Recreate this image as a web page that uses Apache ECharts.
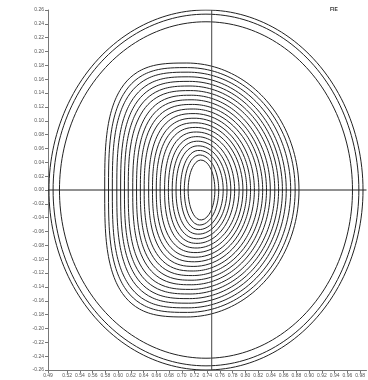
<!DOCTYPE html>
<html>
<head>
<meta charset="utf-8">
<script src="https://cdn.jsdelivr.net/npm/echarts@6/dist/echarts.min.js"></script>
<style>
  html, body { margin: 0; padding: 0; background: #fff; }
  #chart { width: 368px; height: 380px; }
</style>
</head>
<body>
<div id="chart"></div>
<script>
// Axis ranges and tick labels
const xMin = 0.49, xMax = 0.99;
const yMin = -0.26, yMax = 0.26;
const xTickValues = [0.49, 0.52, 0.54, 0.56, 0.58, 0.60, 0.62, 0.64, 0.66, 0.68, 0.70, 0.72,
  0.74, 0.76, 0.78, 0.80, 0.82, 0.84, 0.86, 0.88, 0.90, 0.92, 0.94, 0.96, 0.98];

// Vessel rings: centre R, centre Z, half-width, half-height
const ringCentreR = [0.738, 0.738, 0.738];
const ringCentreZ = [0, 0, 0];
const ringHalfR   = [0.2465, 0.240, 0.230];
const ringHalfZ   = [0.260, 0.254, 0.243];

// Flux surfaces, outermost first: inboard edge, apex R, outboard edge, half-height, inboard squareness
const surfInner = [0.579, 0.585, 0.591, 0.598, 0.604, 0.610, 0.616, 0.623, 0.629, 0.635, 0.641,
  0.648, 0.654, 0.660, 0.666, 0.673, 0.679, 0.685, 0.691, 0.698, 0.704, 0.710];
const surfApex = [0.708, 0.709, 0.710, 0.711, 0.712, 0.713, 0.714, 0.715, 0.716, 0.717, 0.718,
  0.719, 0.720, 0.721, 0.722, 0.723, 0.724, 0.725, 0.726, 0.727, 0.728, 0.730];
const surfOuter = [0.884, 0.878, 0.871, 0.864, 0.858, 0.852, 0.846, 0.839, 0.833, 0.827, 0.821,
  0.814, 0.808, 0.802, 0.796, 0.790, 0.783, 0.777, 0.771, 0.765, 0.758, 0.752];
const surfHalfZ = [0.1834, 0.1768, 0.1702, 0.1635, 0.1569, 0.1502, 0.1436, 0.1369, 0.1303, 0.1236,
  0.1170, 0.1104, 0.1037, 0.0971, 0.0904, 0.0838, 0.0771, 0.0705, 0.0638, 0.0572, 0.0506, 0.0433];
const surfSquare = [3.1, 3.05, 3.0, 2.95, 2.9, 2.85, 2.8, 2.75, 2.7, 2.65, 2.6, 2.55, 2.5, 2.45,
  2.4, 2.35, 2.3, 2.25, 2.2, 2.12, 2.06, 2.0];

// Cross-hair through the axis of the plasma
const crossR = 0.747;
const crossZ = 0.0;

const N = 200;

function ellipsePath(cx, cz, hr, hz) {
  const pts = [];
  for (let k = 0; k <= N; k++) {
    const t = 2 * Math.PI * k / N;
    pts.push([cx + hr * Math.cos(t), cz + hz * Math.sin(t)]);
  }
  return pts;
}

// D-shaped surface: superellipse on the inboard side, ellipse on the outboard side
function surfacePath(rin, apex, rout, hz, n) {
  const pts = [];
  for (let k = 0; k <= N; k++) {
    const t = 2 * Math.PI * k / N;
    const c = Math.cos(t), s = Math.sin(t);
    let r, z;
    if (c >= 0) {
      r = apex + (rout - apex) * c;
      z = hz * s;
    } else {
      const e = 2 / n;
      r = apex - (apex - rin) * Math.pow(Math.abs(c), e);
      z = hz * Math.sign(s) * Math.pow(Math.abs(s), e);
    }
    pts.push([r, z]);
  }
  return pts;
}

const lineBase = {
  type: 'line', showSymbol: false, symbol: 'none', silent: true,
  animation: false, clip: true
};

const series = [];
ringCentreR.forEach((cx, i) => {
  series.push(Object.assign({}, lineBase, {
    data: ellipsePath(cx, ringCentreZ[i], ringHalfR[i], ringHalfZ[i]),
    lineStyle: { color: '#222', width: 1 }
  }));
});
surfInner.forEach((rin, i) => {
  series.push(Object.assign({}, lineBase, {
    data: surfacePath(rin, surfApex[i], surfOuter[i], surfHalfZ[i], surfSquare[i]),
    lineStyle: { color: '#222', width: 1 }
  }));
});
series.push(Object.assign({}, lineBase, {
  data: [[crossR, yMin], [crossR, yMax]],
  lineStyle: { color: '#444', width: 1 }
}));
series.push(Object.assign({}, lineBase, {
  data: [[xMin, crossZ], [xMax, crossZ]],
  lineStyle: { color: '#222', width: 1 }
}));

const labelFont = { fontSize: 5, color: '#555', fontFamily: 'Liberation Sans' };

const chart = echarts.init(document.getElementById('chart'), null, { renderer: 'canvas' });
chart.setOption({
  animation: false,
  backgroundColor: '#fff',
  grid: { left: 48, right: 0, top: 10, bottom: 10 },
  xAxis: {
    type: 'value', min: xMin, max: xMax,
    axisLine: { show: true, onZero: false, lineStyle: { color: '#777', width: 1 } },
    axisTick: { show: true, length: 3, customValues: xTickValues, lineStyle: { color: '#777' } },
    axisLabel: Object.assign({ customValues: xTickValues, margin: 3,
      formatter: v => v.toFixed(2) }, labelFont),
    splitLine: { show: false }
  },
  yAxis: {
    type: 'value', min: yMin, max: yMax, interval: 0.02,
    axisLine: { show: true, onZero: false, lineStyle: { color: '#777', width: 1 } },
    axisTick: { show: true, length: 3, lineStyle: { color: '#777' } },
    axisLabel: Object.assign({ margin: 4,
      formatter: v => (Math.abs(v) < 1e-9 ? '0.00' : v.toFixed(2)) }, labelFont),
    splitLine: { show: false }
  },
  graphic: [{
    type: 'text', left: 330, top: 7,
    style: { text: 'FIE', fontSize: 5, fontWeight: 'bold', fill: '#333', fontFamily: 'Liberation Sans' }
  }],
  series: series
});
</script>
</body>
</html>
